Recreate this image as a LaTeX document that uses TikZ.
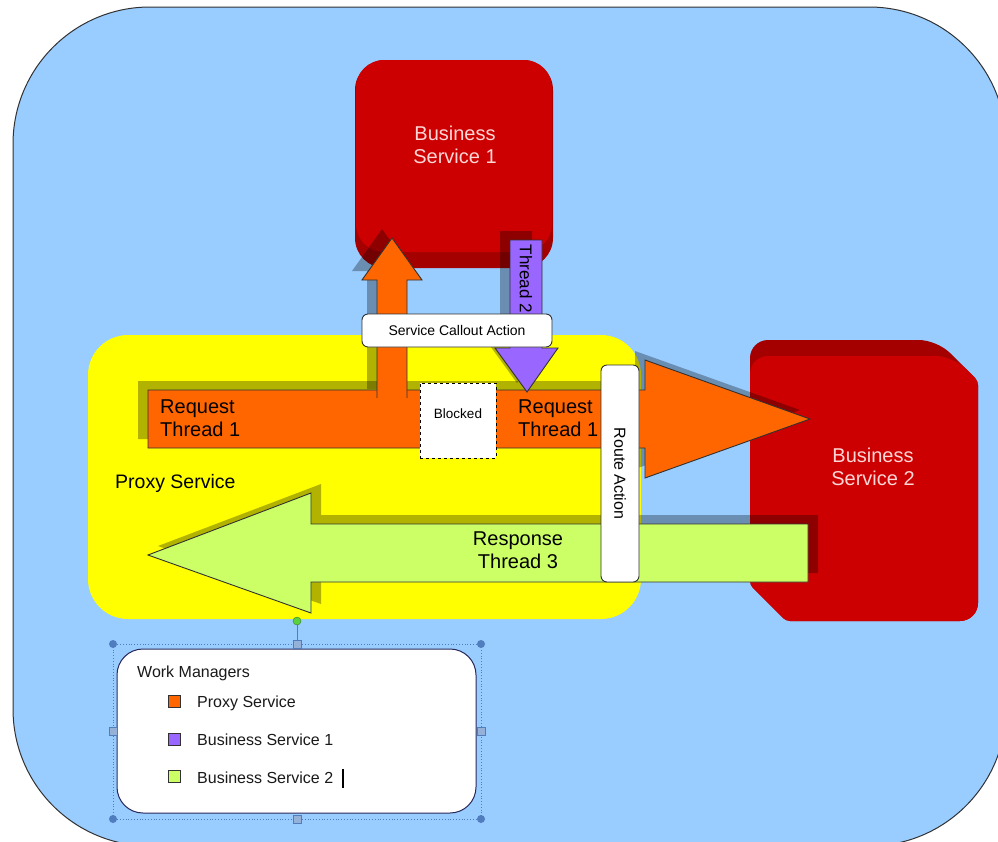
\documentclass[tikz,border=0pt]{standalone}
\usepackage{fontspec}
\setmainfont{Liberation Sans}
\definecolor{skyfill}{RGB}{153,204,255}
\definecolor{bsred}{RGB}{204,0,0}
\definecolor{bsdark}{RGB}{165,0,0}
\definecolor{proxyorange}{RGB}{255,102,0}
\definecolor{bspurple}{RGB}{153,102,255}
\definecolor{limefill}{RGB}{204,255,102}
\definecolor{proxyyellow}{RGB}{255,255,0}
\definecolor{edgegray}{RGB}{50,50,50}
\definecolor{pinktext}{RGB}{255,215,215}
\definecolor{handleblue}{RGB}{80,125,190}
\definecolor{handlegreen}{RGB}{90,210,60}

% arrow outlines, reused for the shadow and for the arrow itself
\newcommand\reqshape[1]{\path[#1] (148,390) -- (645,390) -- (645,360) -- (810,419) -- (645,478) -- (645,448) -- (148,448) -- cycle;}
\newcommand\calloutshape[1]{\path[#1] (377,398) -- (377,280) -- (362,280) -- (392,238) -- (422,280) -- (407,280) -- (407,398) -- cycle;}
\newcommand\threadshape[1]{\path[#1] (510,240) -- (542,240) -- (542,348) -- (558,348) -- (527,392) -- (495,348) -- (510,348) -- cycle;}
\newcommand\respshape[1]{\path[#1] (148,555) -- (311,493) -- (311,524) -- (808,524) -- (808,582) -- (311,582) -- (311,613) -- cycle;}
% business service 2 block: rounded at top left and bottom right, cut at the other two corners
\newcommand\bstwoshape[2]{\path[#1] (750,480) [rounded corners=18pt] -- (750,#2) -- (597+#2,#2) [rounded corners=4pt] -- (978,381) [rounded corners=18pt] -- (978,621) [rounded corners=4pt] -- (786,621) -- (750,585) [sharp corners] -- cycle;}

\begin{document}
\begin{tikzpicture}[x=1pt,y=-1pt,
  shadowfill/.style={fill=black, fill opacity=0.3},
  arrowedge/.style={draw=edgegray, line width=0.9pt, line join=miter},
  bigtext/.style={font=\fontsize{20}{23}\selectfont, inner sep=0pt},
  bstext/.style={bigtext, text=pinktext, align=center},
  actionbox/.style={draw=edgegray, line width=0.9pt, fill=white, rounded corners=6pt, inner sep=0pt, font=\fontsize{16}{19}\selectfont},
  legtext/.style={font=\fontsize{16}{19}\selectfont, inner sep=0pt, anchor=base west, text=black!90},
  legsq/.style={draw=edgegray, line width=0.8pt, minimum size=12pt, inner sep=0pt},
  handlec/.style={circle, fill=handleblue, minimum size=8pt, inner sep=0pt},
  handles/.style={rectangle, draw=handleblue, fill=handleblue!60, minimum size=8pt, inner sep=0pt}]
\useasboundingbox (0,0) rectangle (998,841);
\fill[white] (0,0) rectangle (998,841);

% outer container
\begin{scope}
  \clip (0,0) rectangle (998,841);
  \draw[edgegray, line width=1pt, fill=skyfill, rounded corners=137pt] (13,7) rectangle (1006,846);
\end{scope}

% proxy service area
\fill[proxyyellow, rounded corners=40pt] (88,335) rectangle (641,619);

% business service 1
\fill[bsdark, rounded corners=30pt] (355,60) rectangle (553,268);
\fill[bsred, rounded corners=28pt] (356,60) rectangle (552,252);
\node[bstext] (bs1) at (455,145) {Business\\Service 1};

% business service 2
\bstwoshape{fill=bsdark}{340}
\bstwoshape{fill=bsred}{356}
\node[bstext] (bs2) at (873,467) {Business\\Service 2};

% shadows of the thread arrows
\reqshape{shadowfill, shift={(-10,-9)}}
\calloutshape{shadowfill, shift={(-10,-9)}}
\threadshape{shadowfill, shift={(-10,-9)}}
\respshape{shadowfill, shift={(10,-9)}}

% request thread (proxy service)
\reqshape{fill=proxyorange, arrowedge}
\calloutshape{fill=proxyorange}
\draw[arrowedge] (377,398) -- (377,280) -- (362,280) -- (392,238) -- (422,280) -- (407,280) -- (407,398);

% thread 2 (business service 1)
\threadshape{fill=bspurple, arrowedge}
\node[font=\fontsize{17}{20}\selectfont, rotate=-90, inner sep=0pt] (t2) at (526,279) {Thread 2};

% response thread (business service 2)
\respshape{fill=limefill, arrowedge}

% texts on the arrows
\node[bigtext, align=left, anchor=west] (req1) at (160,418) {Request\\Thread 1};
\node[bigtext, align=left, anchor=west] (req2) at (518,418) {Request\\Thread 1};
\node[bigtext, align=center] (resp) at (518,550) {Response\\Thread 3};
\node[bigtext, anchor=base west, font=\fontsize{19.5}{23}\selectfont] (proxy) at (115,488) {Proxy Service};

% blocked section
\node[draw=black, dashed, line width=1pt, fill=white, minimum width=76pt, minimum height=75pt, inner sep=0pt] (blocked) at (458,420.5) {};
\node[font=\fontsize{13.5}{16}\selectfont, inner sep=0pt] (blockedtxt) at (458,414) {Blocked};

% actions
\node[actionbox, minimum width=190pt, minimum height=33pt, font=\fontsize{14}{17}\selectfont] (callout) at (457,330.5) {Service Callout Action};
\node[actionbox, rotate=-90, minimum width=217pt, minimum height=38pt] (route) at (620,473.5) {Route Action};

% legend
\node[draw=edgegray!80!blue, line width=1pt, fill=white, rounded corners=26pt, minimum width=359pt, minimum height=164pt, inner sep=0pt] (legend) at (296.5,731) {};
\node[legtext] (wm) at (137,677) {Work Managers};
\node[legsq, fill=proxyorange] (sq1) at (174,701) {};
\node[legsq, fill=bspurple] (sq2) at (174,739) {};
\node[legsq, fill=limefill] (sq3) at (174,776) {};
\node[legtext] (lg1) at (197,707) {Proxy Service};
\node[legtext] (lg2) at (197,745) {Business Service 1};
\node[legtext] (lg3) at (197,783) {Business Service 2};
\draw[line width=1.6pt] (343,769) -- (343,788);

% selection frame and handles
\draw[handleblue, dotted, line width=0.8pt] (113,644) rectangle (481,819);
\node[handlec] (hnw) at (113,644) {};
\node[handlec] (hne) at (481,644) {};
\node[handlec] (hsw) at (113,819) {};
\node[handlec] (hse) at (481,819) {};
\node[handles] (hn) at (297,644) {};
\node[handles] (hs) at (297,819) {};
\node[handles] (hw) at (113,731) {};
\node[handles] (he) at (481,731) {};
\node[circle, fill=handlegreen, draw=handlegreen!60!black, minimum size=8pt, inner sep=0pt] (hrot) at (297,621) {};
\draw[handleblue, line width=1pt] (hrot) -- (hn);
\end{tikzpicture}
\end{document}
